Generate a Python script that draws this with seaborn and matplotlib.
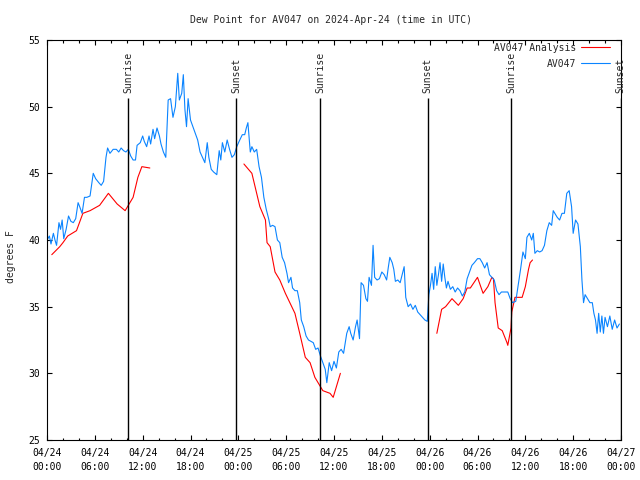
import pandas as pd
import matplotlib
matplotlib.use("Agg")
import matplotlib.pyplot as plt
import matplotlib.dates as mdates
import seaborn as sns

# hours after 2024-04-24 00:00 UTC, dew point in F
obs_hours = [0.0, 0.3, 0.5, 0.8, 1.0, 1.2, 1.5, 1.7, 1.9, 2.1, 2.4, 2.7, 3.0, 3.3, 3.6, 3.9,
             4.1, 4.4, 4.7, 5.0, 5.4, 5.8, 6.1, 6.5, 6.8, 7.1, 7.4, 7.6, 7.9, 8.3, 8.7, 9.0,
             9.3, 9.6, 9.9, 10.2, 10.5, 10.8, 11.1, 11.3, 11.7, 12.0, 12.2, 12.5, 12.8, 13.0,
             13.3, 13.5, 13.8, 14.1, 14.3, 14.6, 14.9, 15.2, 15.5, 15.8, 16.1, 16.4, 16.6,
             16.9, 17.1, 17.3, 17.5, 17.7, 18.0, 18.3, 18.6, 18.9, 19.2, 19.5, 19.8, 20.1,
             20.3, 20.6, 20.9, 21.3, 21.6, 21.8, 22.0, 22.3, 22.6, 22.9, 23.2, 23.5, 23.8,
             24.1, 24.5, 24.8, 25.0, 25.2, 25.5, 25.7, 26.0, 26.3, 26.6, 26.9, 27.2, 27.5,
             27.8, 28.0, 28.3, 28.6, 28.9, 29.2, 29.5, 29.8, 30.1, 30.3, 30.6, 30.8, 31.1,
             31.4, 31.7, 31.9, 32.2, 32.5, 32.8, 33.1, 33.4, 33.7, 34.0, 34.3, 34.6, 34.9,
             35.1, 35.4, 35.7, 36.0, 36.3, 36.6, 36.9, 37.2, 37.6, 37.9, 38.1, 38.4, 38.7,
             38.9, 39.2, 39.4, 39.7, 40.0, 40.2, 40.4, 40.7, 40.9, 41.1, 41.4, 41.7, 42.0,
             42.3, 42.6, 42.8, 43.0, 43.3, 43.5, 43.7, 44.0, 44.3, 44.6, 44.8, 45.0, 45.3,
             45.6, 45.9, 46.2, 46.5, 46.8, 47.1, 47.4, 47.7, 47.9, 48.1, 48.3, 48.5, 48.7,
             48.9, 49.1, 49.3, 49.5, 49.7, 49.9, 50.1, 50.3, 50.6, 50.9, 51.2, 51.5, 51.8,
             52.1, 52.4, 52.7, 53.0, 53.3, 53.6, 54.0, 54.3, 54.6, 54.9, 55.2, 55.5, 55.8,
             56.1, 56.4, 56.7, 57.0, 57.4, 57.8, 58.1, 58.4, 58.8, 59.1, 59.4, 59.7, 60.0,
             60.2, 60.5, 60.8, 61.0, 61.2, 61.5, 61.8, 62.1, 62.4, 62.7, 63.0, 63.3, 63.5,
             63.7, 64.0, 64.3, 64.6, 64.9, 65.2, 65.5, 65.8, 66.0, 66.3, 66.6, 66.9, 67.1,
             67.3, 67.5, 67.8, 68.1, 68.4, 68.6, 68.8, 69.0, 69.2, 69.4, 69.6, 69.8, 70.0,
             70.3, 70.6, 70.9, 71.2, 71.5, 71.8]
obs_dewpt = [40.0, 40.3, 39.7, 40.5, 40.0, 39.6, 41.3, 40.8, 41.5, 40.1, 40.8, 41.8, 41.4, 41.3,
             41.6, 42.8, 42.5, 42.0, 43.2, 43.2, 43.3, 45.0, 44.6, 44.3, 44.1, 44.4, 46.2, 46.9,
             46.5, 46.8, 46.8, 46.6, 46.9, 46.7, 46.6, 46.8, 46.3, 46.0, 46.0, 47.1, 47.3, 47.8,
             47.4, 47.0, 47.8, 47.2, 48.3, 47.6, 48.4, 47.8, 47.2, 46.6, 46.2, 50.5, 50.6, 49.2,
             50.0, 52.5, 50.5, 51.0, 52.4, 49.8, 48.5, 50.6, 49.0, 48.5, 48.0, 47.5, 46.6, 46.2,
             45.8, 47.3, 46.2, 45.3, 45.1, 44.9, 46.7, 46.0, 47.3, 46.6, 47.5, 46.8, 46.2, 46.4,
             47.0, 47.4, 47.9, 47.9, 48.4, 48.8, 46.6, 47.0, 46.6, 46.8, 45.5, 44.7, 43.2, 42.3,
             41.6, 41.0, 41.1, 41.0, 40.0, 39.8, 38.7, 38.3, 37.5, 36.8, 37.2, 36.4, 36.2, 36.2,
             35.3, 34.0, 33.5, 32.8, 32.5, 32.4, 32.3, 31.8, 31.9, 31.3, 30.8, 30.3, 29.3, 30.8,
             30.2, 30.9, 30.4, 31.6, 31.8, 31.5, 33.0, 33.5, 33.0, 32.5, 33.5, 34.0, 32.6, 36.8,
             36.6, 35.6, 35.4, 37.2, 36.6, 39.6, 37.2, 37.0, 37.1, 37.6, 37.4, 37.0, 37.9, 38.7,
             38.3, 37.8, 36.9, 37.0, 36.8, 37.5, 38.0, 35.7, 35.0, 35.2, 34.8, 35.1, 34.6, 34.4,
             34.2, 34.0, 33.9, 35.9, 36.6, 37.5, 36.3, 38.0, 36.6, 37.4, 38.3, 36.9, 38.2, 37.2,
             36.4, 36.9, 36.3, 36.5, 36.1, 36.4, 36.2, 35.8, 36.1, 37.1, 37.6, 38.1, 38.3, 38.6,
             38.6, 38.3, 37.9, 38.3, 37.4, 37.2, 37.0, 36.2, 35.9, 36.1, 36.1, 36.1, 35.6, 35.3,
             35.4, 36.6, 37.8, 39.1, 38.6, 40.2, 40.5, 40.0, 40.5, 39.0, 39.2, 39.1, 39.2, 39.6,
             40.7, 41.3, 41.1, 42.2, 42.0, 41.7, 41.5, 42.0, 42.0, 43.5, 43.7, 42.5, 40.5, 41.5,
             41.2, 39.5, 37.0, 35.3, 35.9, 35.6, 35.3, 35.3, 34.5, 34.0, 33.0, 34.5, 33.1, 34.3,
             33.0, 34.2, 33.5, 34.3, 33.3, 34.0, 33.4, 33.7]

# analysis series comes in three pieces with gaps between
ana_hours_1 = [0.6, 1.6, 2.0, 2.6, 3.7, 4.5, 5.4, 6.6, 7.7, 8.8, 9.8, 10.3, 10.8, 11.4, 11.9, 12.9]
ana_dewpt_1 = [38.9, 39.5, 39.8, 40.3, 40.7, 42.0, 42.2, 42.6, 43.5, 42.7, 42.2, 42.7, 43.2, 44.7, 45.5, 45.4]
ana_hours_2 = [24.7, 25.7, 26.1, 26.7, 27.4, 27.6, 28.0, 28.6, 29.2, 29.9, 30.7, 31.1, 31.7,
               32.4, 33.0, 33.6, 34.3, 34.6, 35.5, 35.9, 36.8]
ana_dewpt_2 = [45.7, 45.0, 44.0, 42.5, 41.5, 39.8, 39.5, 37.6, 37.0, 36.0, 35.0, 34.5, 33.0,
               31.2, 30.8, 29.7, 29.0, 28.7, 28.5, 28.2, 30.0]
ana_hours_3 = [48.9, 49.5, 50.0, 50.8, 51.6, 52.2, 52.7, 53.1, 54.0, 54.7, 55.3, 55.8, 56.0,
               56.2, 56.6, 57.1, 57.7, 57.8, 58.2, 58.3, 58.7, 59.6, 60.0, 60.4, 60.6, 60.9]
ana_dewpt_3 = [33.0, 34.8, 35.0, 35.6, 35.1, 35.6, 36.4, 36.4, 37.2, 36.0, 36.5, 37.2, 37.1,
               35.3, 33.4, 33.2, 32.3, 32.1, 33.4, 34.6, 35.7, 35.7, 36.5, 37.8, 38.3, 38.5]

sun_hours = [10.2, 23.73, 34.23, 47.77, 58.2, 71.95]
sun_labels = ["Sunrise", "Sunset", "Sunrise", "Sunset", "Sunrise", "Sunset"]

start = pd.Timestamp("2024-04-24 00:00")


def to_time(hours):
    return start + pd.to_timedelta(pd.Series(hours), unit="h")


obs = pd.DataFrame({"time": to_time(obs_hours), "dewpt": obs_dewpt})
ana = pd.concat([
    pd.DataFrame({"time": to_time(h), "dewpt": v, "seg": i})
    for i, (h, v) in enumerate([(ana_hours_1, ana_dewpt_1),
                                (ana_hours_2, ana_dewpt_2),
                                (ana_hours_3, ana_dewpt_3)])
], ignore_index=True)

sns.set_style("ticks")
plt.rcParams["font.family"] = ["DejaVu Sans Mono"]
plt.rcParams["font.size"] = 7

fig = plt.figure(figsize=(6.4, 4.8), dpi=100)
ax = fig.add_axes([47 / 640, 40 / 480, 574 / 640, 400 / 480])

sns.lineplot(data=ana, x="time", y="dewpt", units="seg", estimator=None,
             color="#ff0000", lw=0.8, ax=ax, label="AV047 Analysis")
sns.lineplot(data=obs, x="time", y="dewpt", color="#0a84ff", lw=0.8, ax=ax, label="AV047")

sun_times = to_time(sun_hours)
ax.vlines(sun_times, 25, 50.65, color="black", lw=1)
for t, lab in zip(sun_times, sun_labels):
    ax.text(t, 51.0, lab, rotation=90, ha="center", va="bottom", fontsize=7)

ax.set_xlim(start, start + pd.Timedelta(hours=72))
ax.set_ylim(25, 55)
ax.set_yticks(range(25, 56, 5))
ax.xaxis.set_major_locator(mdates.HourLocator(byhour=[0, 6, 12, 18]))
ax.xaxis.set_minor_locator(mdates.HourLocator(byhour=range(0, 24, 2)))
ax.xaxis.set_major_formatter(mdates.DateFormatter("%m/%d\n%H:%M"))
ax.tick_params(which="both", direction="in", top=True, right=True, colors="black")
ax.tick_params(which="major", length=3.3, width=0.8)
ax.tick_params(which="minor", length=1.8, width=0.8)
ax.tick_params(axis="x", pad=6)
ax.tick_params(axis="y", pad=5)
for s in ax.spines.values():
    s.set_linewidth(0.8)
    s.set_color("black")
ax.set_xlabel("")
ax.set_ylabel("")

handles, labels = ax.get_legend_handles_labels()
uniq = dict(zip(labels, handles))
ax.legend(uniq.values(), uniq.keys(), loc="upper right", bbox_to_anchor=(0.981, 0.993),
          frameon=False, markerfirst=False, borderaxespad=0, borderpad=0,
          handlelength=3.0, handletextpad=0.5, labelspacing=0.6, fontsize=7)

fig.text(331 / 640, 1 - 20 / 480, "Dew Point for AV047 on 2024-Apr-24 (time in UTC)",
         ha="center", va="center", fontsize=7)
fig.text(11 / 640, 1 - 257 / 480, "degrees F", rotation=90, ha="center", va="center", fontsize=7)

fig.canvas.draw()
for t in ax.get_xticklabels():
    t.set_linespacing(1.5)

fig.savefig("out.png", dpi=100)
